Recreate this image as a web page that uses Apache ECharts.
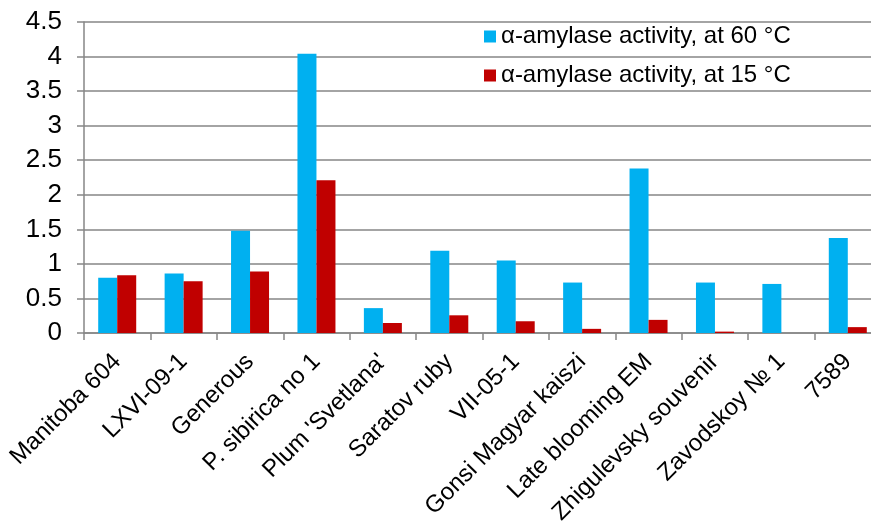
<!DOCTYPE html>
<html><head><meta charset="utf-8">
<script src="https://cdn.jsdelivr.net/npm/echarts@6/dist/echarts.min.js"></script>
<style>html,body{margin:0;padding:0;background:#fff}#c{width:871px;height:525px}</style>
</head><body><div id="c"></div>
<script>
const categories = ["Manitoba 604","LXVI-09-1","Generous","P. sibirica no 1","Plum 'Svetlana'","Saratov ruby","VII-05-1","Gonsi Magyar kaiszi","Late blooming EM","Zhigulevsky souvenir","Zavodskoy № 1","7589"];
const seriesNames = ["α-amylase activity, at 60 °C","α-amylase activity, at 15 °C"];
const at60 = [0.80,0.86,1.48,4.04,0.36,1.19,1.05,0.73,2.38,0.73,0.71,1.375];
const at15 = [0.835,0.75,0.89,2.21,0.145,0.256,0.17,0.06,0.19,0.02,0,0.085];
const yTicks = {min:0,max:4.5,interval:0.5};

const chart = echarts.init(document.getElementById('c'));
const font = "Liberation Sans, Arial, sans-serif";
chart.setOption({
  animation:false,
  textStyle:{fontFamily:font},
  legend:{orient:'vertical',left:484,top:24,padding:0,itemWidth:12,itemHeight:12,itemGap:14,
    textStyle:{fontSize:24,color:'#000',fontFamily:font,lineHeight:25},
    data:seriesNames.map(n=>({name:n,icon:'rect'}))},
  grid:{left:84,top:22,bottom:192,width:797,containLabel:false,outerBoundsMode:'none'},
  xAxis:{type:'category',data:categories,
    axisLine:{lineStyle:{color:'#868686',width:1.5}},
    axisTick:{show:true,length:7,alignWithLabel:false,lineStyle:{color:'#868686',width:1.5}},
    axisLabel:{rotate:45,interval:0,margin:25,fontSize:24,color:'#000',fontFamily:font},
    splitLine:{show:false}},
  yAxis:{type:'value',min:yTicks.min,max:yTicks.max,interval:yTicks.interval,
    axisLine:{show:true,lineStyle:{color:'#868686',width:1.5}},
    axisTick:{show:true,length:7,lineStyle:{color:'#868686',width:1.5}},
    axisLabel:{fontSize:26,color:'#000',margin:22,fontFamily:font},
    splitLine:{show:true,lineStyle:{color:'#868686',width:1.5}}},
  series:[
    {name:seriesNames[0],type:'bar',data:at60,barWidth:19,barGap:'0%',itemStyle:{color:'#00B0F0'}},
    {name:seriesNames[1],type:'bar',data:at15,barWidth:19,barGap:'0%',itemStyle:{color:'#C00000'}}
  ]
});
</script></body></html>
